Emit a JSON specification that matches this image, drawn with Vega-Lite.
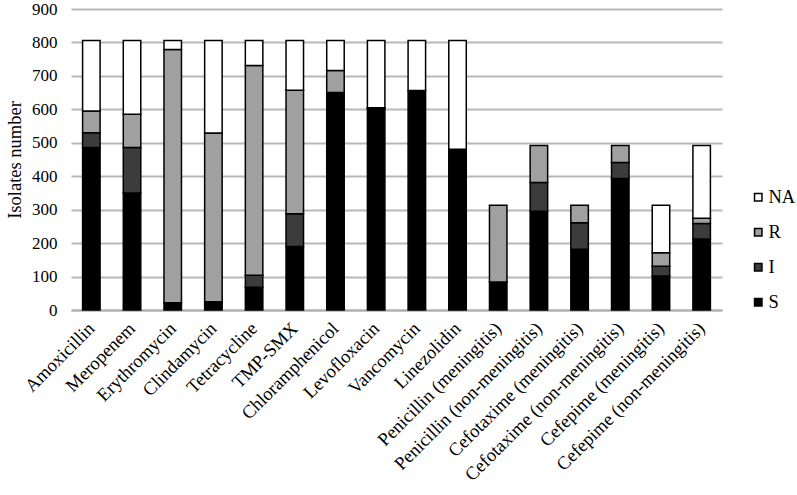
{
  "$schema": "https://vega.github.io/schema/vega-lite/v6.json",
  "autosize": "none",
  "padding": {"left": 71, "top": 9, "right": 75, "bottom": 185},
  "width": 651,
  "height": 301,
  "background": "white",
  "config": {
    "font": "Liberation Serif",
    "view": {"stroke": null}
  },
  "data": {
    "values": [
      {"drug": "Amoxicillin", "status": "S", "n": 486},
      {"drug": "Amoxicillin", "status": "I", "n": 44},
      {"drug": "Amoxicillin", "status": "R", "n": 65},
      {"drug": "Amoxicillin", "status": "NA", "n": 211},
      {"drug": "Meropenem", "status": "S", "n": 350},
      {"drug": "Meropenem", "status": "I", "n": 136},
      {"drug": "Meropenem", "status": "R", "n": 99},
      {"drug": "Meropenem", "status": "NA", "n": 221},
      {"drug": "Erythromycin", "status": "S", "n": 22},
      {"drug": "Erythromycin", "status": "R", "n": 757},
      {"drug": "Erythromycin", "status": "NA", "n": 27},
      {"drug": "Clindamycin", "status": "S", "n": 25},
      {"drug": "Clindamycin", "status": "R", "n": 504},
      {"drug": "Clindamycin", "status": "NA", "n": 277},
      {"drug": "Tetracycline", "status": "S", "n": 68},
      {"drug": "Tetracycline", "status": "I", "n": 36},
      {"drug": "Tetracycline", "status": "R", "n": 627},
      {"drug": "Tetracycline", "status": "NA", "n": 75},
      {"drug": "TMP-SMX", "status": "S", "n": 190},
      {"drug": "TMP-SMX", "status": "I", "n": 98},
      {"drug": "TMP-SMX", "status": "R", "n": 369},
      {"drug": "TMP-SMX", "status": "NA", "n": 149},
      {"drug": "Chloramphenicol", "status": "S", "n": 650},
      {"drug": "Chloramphenicol", "status": "R", "n": 66},
      {"drug": "Chloramphenicol", "status": "NA", "n": 90},
      {"drug": "Levofloxacin", "status": "S", "n": 603},
      {"drug": "Levofloxacin", "status": "R", "n": 2},
      {"drug": "Levofloxacin", "status": "NA", "n": 201},
      {"drug": "Vancomycin", "status": "S", "n": 656},
      {"drug": "Vancomycin", "status": "NA", "n": 150},
      {"drug": "Linezolidin", "status": "S", "n": 481},
      {"drug": "Linezolidin", "status": "NA", "n": 325},
      {"drug": "Penicillin (meningitis)", "status": "S", "n": 84},
      {"drug": "Penicillin (meningitis)", "status": "R", "n": 229},
      {"drug": "Penicillin (non-meningitis)", "status": "S", "n": 295},
      {"drug": "Penicillin (non-meningitis)", "status": "I", "n": 86},
      {"drug": "Penicillin (non-meningitis)", "status": "R", "n": 111},
      {"drug": "Cefotaxime (meningitis)", "status": "S", "n": 182},
      {"drug": "Cefotaxime (meningitis)", "status": "I", "n": 79},
      {"drug": "Cefotaxime (meningitis)", "status": "R", "n": 52},
      {"drug": "Cefotaxime (non-meningitis)", "status": "S", "n": 393},
      {"drug": "Cefotaxime (non-meningitis)", "status": "I", "n": 48},
      {"drug": "Cefotaxime (non-meningitis)", "status": "R", "n": 51},
      {"drug": "Cefepime (meningitis)", "status": "S", "n": 102},
      {"drug": "Cefepime (meningitis)", "status": "I", "n": 29},
      {"drug": "Cefepime (meningitis)", "status": "R", "n": 40},
      {"drug": "Cefepime (meningitis)", "status": "NA", "n": 142},
      {"drug": "Cefepime (non-meningitis)", "status": "S", "n": 212},
      {"drug": "Cefepime (non-meningitis)", "status": "I", "n": 47},
      {"drug": "Cefepime (non-meningitis)", "status": "R", "n": 15},
      {"drug": "Cefepime (non-meningitis)", "status": "NA", "n": 218}
    ]
  },
  "transform": [
    {"calculate": "indexof(['S','I','R','NA'], datum.status)", "as": "stackOrder"}
  ],
  "mark": {"type": "bar", "stroke": "black", "strokeWidth": 1.5},
  "encoding": {
    "x": {
      "field": "drug",
      "type": "nominal",
      "sort": null,
      "scale": {"paddingInner": 0.57, "paddingOuter": 0.285},
      "axis": {
        "title": null,
        "labelAngle": -45,
        "labelAlign": "right",
        "labelBaseline": "middle",
        "labelFontSize": 18.5,
        "labelColor": "black",
        "labelPadding": 15,
        "labelLimit": 300,
        "ticks": false,
        "domain": true,
        "domainColor": "#b0b0b0",
        "domainWidth": 2,
        "grid": false
      }
    },
    "y": {
      "field": "n",
      "type": "quantitative",
      "stack": "zero",
      "scale": {"domain": [0, 900], "nice": false},
      "axis": {
        "title": "Isolates number",
        "titleFontSize": 18.5,
        "titleFontWeight": "normal",
        "titleColor": "black",
        "titlePadding": 7,
        "values": [0, 100, 200, 300, 400, 500, 600, 700, 800, 900],
        "labelFontSize": 17,
        "labelColor": "black",
        "labelPadding": 14,
        "ticks": false,
        "domain": false,
        "grid": true,
        "gridColor": "#b8b8b8",
        "gridWidth": 2
      }
    },
    "color": {
      "field": "status",
      "type": "nominal",
      "scale": {
        "domain": ["NA", "R", "I", "S"],
        "range": ["#ffffff", "#a0a0a0", "#3c3c3c", "#000000"]
      },
      "legend": {
        "title": null,
        "orient": "none",
        "legendX": 678,
        "legendY": 179,
        "symbolType": "square",
        "symbolSize": 55,
        "symbolStrokeColor": "black",
        "symbolStrokeWidth": 1.5,
        "labelFontSize": 18.5,
        "labelColor": "black",
        "labelOffset": 1,
        "rowPadding": 16,
        "padding": 0
      }
    },
    "order": {"field": "stackOrder", "type": "quantitative", "sort": "ascending"}
  }
}
